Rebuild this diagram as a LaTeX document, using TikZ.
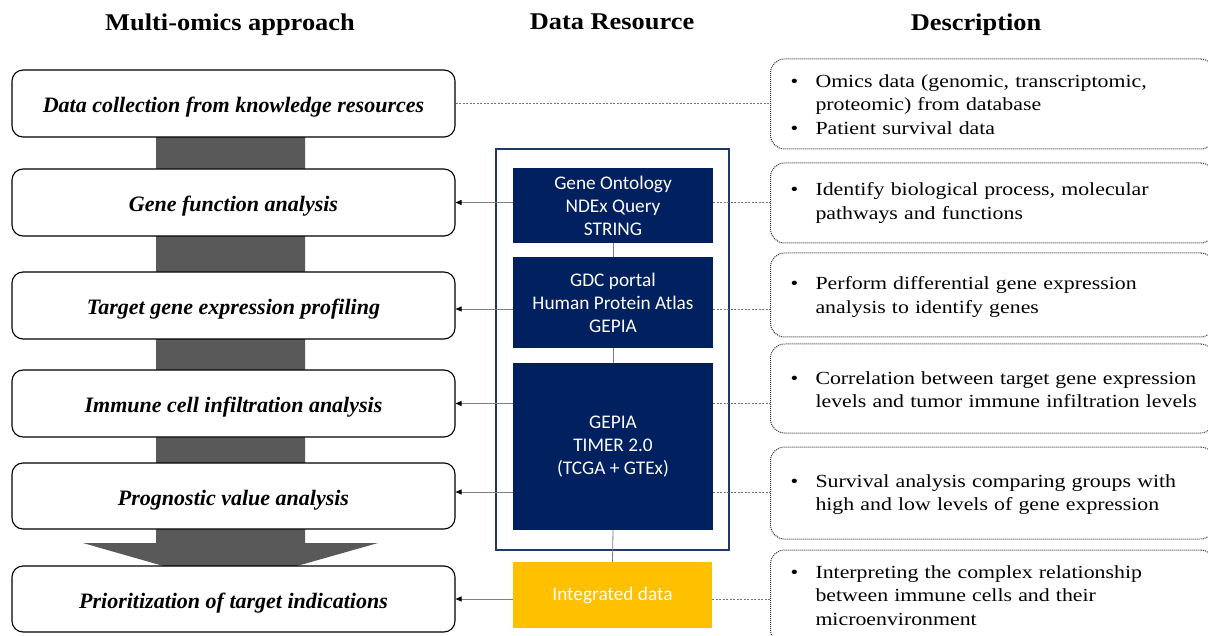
\documentclass[tikz,border=0pt]{standalone}
\usepackage{fontspec}
\setmainfont{Liberation Serif}
\newfontfamily\descfont{Liberation Serif}[FakeStretch=1.18]
\newfontfamily\titlefont{Liberation Serif}[FakeStretch=1.1]
\newfontfamily\calibfont{Carlito}
\usetikzlibrary{arrows.meta}
\definecolor{navy}{HTML}{002060}
\definecolor{navyline}{HTML}{1F3864}
\definecolor{gold}{HTML}{FFC000}
\definecolor{shaft}{HTML}{595959}
\newenvironment{desclist}[1]{\vspace*{#1}\noindent\begin{tabular}{@{\hspace{3pt}}p{25pt}@{}l@{}}}{\end{tabular}}
\begin{document}
\begin{tikzpicture}[x=1pt,y=-1pt,
 stepbox/.style={draw=black,line width=1.1pt,rounded corners=11pt,fill=white,minimum width=443pt,minimum height=67pt,inner sep=0pt,text height=18pt,text depth=0pt,font=\fontsize{22}{26}\selectfont\bfseries\itshape},
 resbox/.style={fill=navy,text=white,minimum width=200pt,inner sep=0pt,align=center,font=\calibfont\fontsize{19.3}{23}\selectfont},
 descbox/.style={draw=black!80,line width=1pt,dash pattern=on 1pt off 1pt,rounded corners=14pt,text width=410pt,inner xsep=17pt,inner ysep=0pt,anchor=west,font=\descfont\fontsize{18.5}{23.5}\selectfont},
 title/.style={font=\titlefont\fontsize{24}{28}\selectfont\bfseries},
 link/.style={draw=black!50,line width=0.8pt,-{Triangle[length=6pt,width=5pt,color=black]}},
 dotlink/.style={draw=black!55,line width=0.8pt,dash pattern=on 2pt off 1.5pt},
 vlink/.style={draw=black!50,line width=0.8pt}
]
\useasboundingbox (0,0) rectangle (1208,636);
\clip (0,0) rectangle (1208,636);

% titles
\node[title] (t1) at (230,25) {Multi-omics approach};
\node[title] (t2) at (612,22) {Data Resource};
\node[title] (t3) at (976,25) {Description};

% big gray arrow
\fill[shaft] (156,137) -- (305,137) -- (305,543) -- (378,543) -- (230,585) -- (83,543) -- (156,543) -- cycle;

% left step boxes
\node[stepbox] (L1) at (233.5,103.5) {Data collection from knowledge resources};
\node[stepbox] (L2) at (233.5,202.5) {Gene function analysis};
\node[stepbox] (L3) at (233.5,305.5) {Target gene expression profiling};
\node[stepbox] (L4) at (233.5,403.5) {Immune cell infiltration analysis};
\node[stepbox,minimum height=66pt] (L5) at (233.5,496) {Prognostic value analysis};
\node[stepbox,minimum height=66pt] (L6) at (233.5,599) {Prioritization of target indications};

% data resource
\node[draw=navyline,line width=1.2pt,minimum width=233pt,minimum height=401pt,inner sep=0pt] (frame) at (612.5,349.5) {};
\node[resbox,minimum height=75pt] (A) at (613,205.5) {Gene Ontology\\NDEx Query\\STRING};
\node[resbox,minimum height=91pt] (B) at (613,302.5) {GDC portal\\Human Protein Atlas\\GEPIA};
\node[resbox,minimum height=167pt] (C) at (613,446.5) {GEPIA\\TIMER 2.0\\(TCGA + GTEx)};
\node[resbox,fill=gold,minimum width=199pt,minimum height=66pt] (Y) at (612.5,595) {Integrated data};

\draw[vlink] (A.south) -- (B.north);
\draw[vlink] (B.south) -- (C.north);
\draw[vlink] (C.south) -- (Y.north);

% descriptions
\node[descbox,minimum height=90pt] (D1) at (770,104) {\begin{desclist}{-4pt}\textbullet & Omics data (genomic, transcriptomic,\\ & proteomic) from database\\ \textbullet & Patient survival data\end{desclist}};
\node[descbox,minimum height=80pt] (D2) at (770,203) {\begin{desclist}{0pt}\textbullet & Identify biological process, molecular\\ & pathways and functions\end{desclist}};
\node[descbox,minimum height=84pt] (D3) at (770,295) {\begin{desclist}{-4pt}\textbullet & Perform differential gene expression\\ & analysis to identify genes\end{desclist}};
\node[descbox,minimum height=89pt] (D4) at (770,388.5) {\begin{desclist}{-6pt}\textbullet & Correlation between target gene expression\\ & levels and tumor immune infiltration levels\end{desclist}};
\node[descbox,minimum height=92pt] (D5) at (770,493) {\begin{desclist}{-3pt}\textbullet & Survival analysis comparing groups with\\ & high and low levels of gene expression\end{desclist}};
\node[descbox,minimum height=94pt] (D6) at (770,597) {\begin{desclist}{0pt}\textbullet & Interpreting the complex relationship\\ & between immune cells and their\\ & microenvironment\end{desclist}};

% connectors
\draw[dotlink] (L1.east) -- (D1.west |- L1.east);
\draw[link] (A.west |- L2.east) -- (L2.east);
\draw[link] (B.west |- 0,309) -- (L3.east |- 0,309);
\draw[link] (C.west |- L4.east) -- (L4.east);
\draw[link] (C.west |- 0,492) -- (L5.east |- 0,492);
\draw[link] (Y.west |- L6.east) -- (L6.east);
\draw[dotlink] (A.east |- L2.east) -- (D2.west |- L2.east);
\draw[dotlink] (B.east |- 0,309) -- (D3.west |- 0,309);
\draw[dotlink] (C.east |- L4.east) -- (D4.west |- L4.east);
\draw[dotlink] (C.east |- 0,492) -- (D5.west |- 0,492);
\draw[dotlink] (Y.east |- L6.east) -- (D6.west |- L6.east);
\end{tikzpicture}
\end{document}
